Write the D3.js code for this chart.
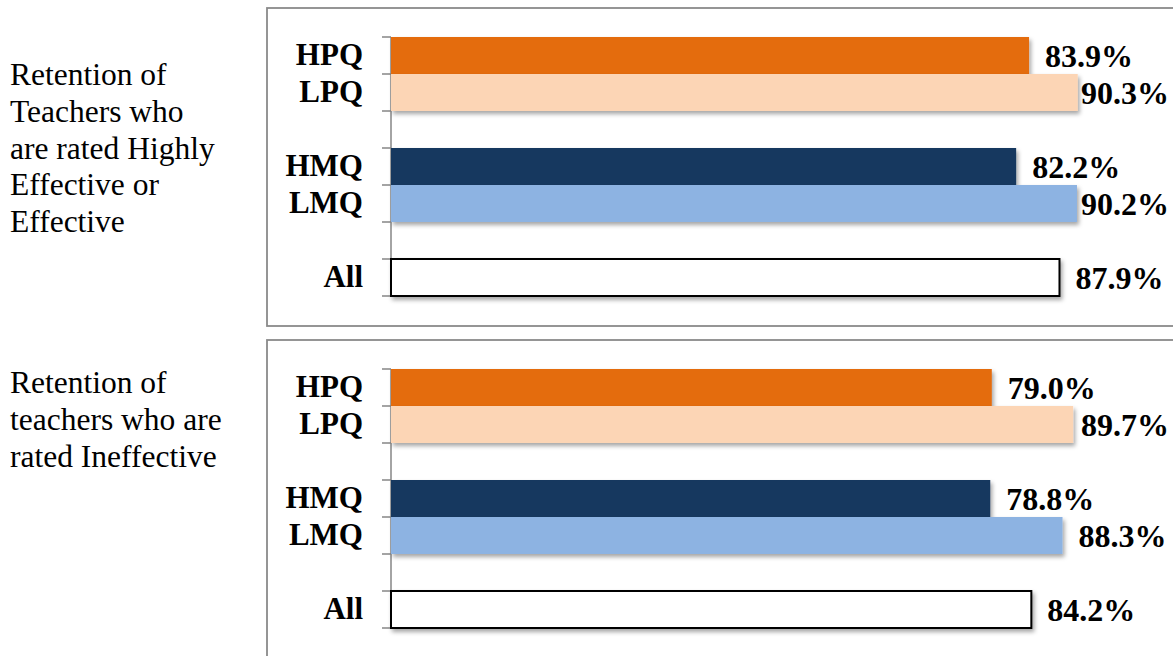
<!DOCTYPE html>
<html>
<head>
<meta charset="utf-8">
<script src="https://cdn.jsdelivr.net/npm/d3@7"></script>
<style>
  html, body { margin: 0; padding: 0; background: #fff; }
  svg { display: block; }
</style>
</head>
<body>
<svg id="chart" width="1173" height="656"></svg>
<script>
// Bar slots, top to bottom; empty strings are spacer rows between groups
const slots = ["HPQ", "LPQ", "", "HMQ", "LMQ", "", "All"];
const groupColors = {
  HPQ: "#e46c0a",
  LPQ: "#fcd5b5",
  HMQ: "#17375e",
  LMQ: "#8db3e2",
  All: "#ffffff"
};

// Retention rates (%) for each panel
const effectiveValues = [83.9, 90.3, null, 82.2, 90.2, null, 87.9];
const ineffectiveValues = [79.0, 89.7, null, 78.8, 88.3, null, 84.2];

const effectiveTitle = ["Retention of", "Teachers who", "are rated Highly", "Effective or", "Effective"];
const ineffectiveTitle = ["Retention of", "teachers who are", "rated Ineffective"];

const svg = d3.select("#chart");
const W = 1173;
const serif = "'Liberation Serif', 'Times New Roman', serif";

const defs = svg.append("defs");
const shadow = defs.append("filter").attr("id", "barShadow")
  .attr("x", "-5%").attr("y", "-20%").attr("width", "115%").attr("height", "160%");
shadow.append("feDropShadow")
  .attr("dx", 2).attr("dy", 3).attr("stdDeviation", 2)
  .attr("flood-color", "#000").attr("flood-opacity", 0.35);

// Shared value scale: 0 % at the axis line
const x = d3.scaleLinear().domain([0, 100]).range([391, 1151.5]);

function drawPanel(cfg) {
  const g = svg.append("g");

  // panel frame
  g.append("rect")
    .attr("x", 267).attr("y", cfg.frameTop)
    .attr("width", W + 20 - 267).attr("height", cfg.frameHeight)
    .attr("fill", "none").attr("stroke", "#8a8a8a").attr("stroke-width", 1.8);

  // side title
  const title = g.append("text")
    .attr("font-family", serif)
    .attr("font-size", 31.5).attr("fill", "#000");
  cfg.title.forEach((line, i) => {
    title.append("tspan").attr("x", 10).attr("y", cfg.titleY + i * 36.75).text(line);
  });

  const y = d3.scaleBand().domain(d3.range(slots.length)).range([cfg.top, cfg.bottom]).padding(0);

  // category axis line with ticks at slot boundaries
  const axis = g.append("g").attr("stroke", "#868686").attr("stroke-width", 1.5);
  axis.append("line").attr("x1", x(0)).attr("x2", x(0))
    .attr("y1", cfg.top).attr("y2", cfg.bottom);
  const bounds = d3.range(slots.length + 1).map(i => cfg.top + i * y.step());
  axis.selectAll("line.tick").data(bounds).join("line").attr("class", "tick")
    .attr("x1", x(0) - 9).attr("x2", x(0))
    .attr("y1", d => d).attr("y2", d => d);

  const rows = slots.map((name, i) => ({ name, i, v: cfg.values[i] })).filter(d => d.name && d.v != null);

  // bars
  g.selectAll("rect.bar").data(rows).join("rect").attr("class", "bar")
    .attr("x", x(0))
    .attr("y", d => y(d.i))
    .attr("width", d => x(d.v) - x(0))
    .attr("height", y.bandwidth())
    .attr("fill", d => groupColors[d.name])
    .attr("stroke", d => d.name === "All" ? "#000" : "none")
    .attr("stroke-width", d => d.name === "All" ? 2 : 0)
    .attr("filter", "url(#barShadow)");

  // category labels
  g.selectAll("text.cat").data(rows).join("text").attr("class", "cat")
    .attr("x", 363)
    .attr("y", d => y(d.i) + y.bandwidth() / 2 + 9)
    .attr("text-anchor", "end")
    .attr("font-family", serif)
    .attr("font-weight", "bold").attr("font-size", 31)
    .text(d => d.name);

  // value labels, kept inside the right edge
  g.selectAll("text.val").data(rows).join("text").attr("class", "val")
    .attr("font-family", serif)
    .attr("font-weight", "bold").attr("font-size", 32)
    .text(d => d3.format(".1f")(d.v) + "%")
    .each(function (d) {
      const w = this.getComputedTextLength();
      const lx = Math.min(x(d.v) + 16, 1169 - w);
      const ly = y(d.i) + y.bandwidth() / 2 + 11.5;
      d3.select(this).attr("x", lx).attr("y", ly);
    });
}

drawPanel({
  frameTop: 8, frameHeight: 318,
  top: 37, bottom: 296,
  values: effectiveValues,
  title: effectiveTitle, titleY: 85
});

drawPanel({
  frameTop: 340, frameHeight: 340,
  top: 369, bottom: 628,
  values: ineffectiveValues,
  title: ineffectiveTitle, titleY: 393
});
</script>
</body>
</html>
